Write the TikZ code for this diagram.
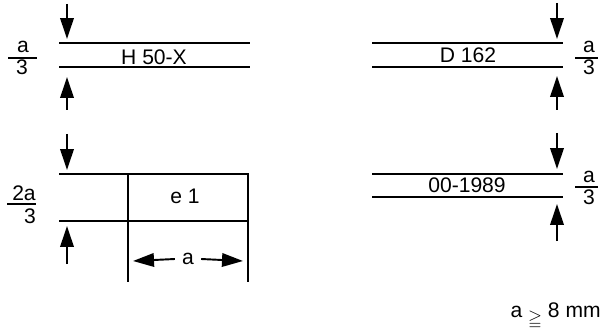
\documentclass[tikz,border=0pt]{standalone}
\usepackage{fontspec}
\usepackage{amssymb}
\setmainfont{Liberation Sans}
\usetikzlibrary{arrows.meta}

\begin{document}
\begin{tikzpicture}[x=0.02cm,y=-0.02cm,font=\fontsize{12}{14}\selectfont,
        rule/.style={line width=1.1pt},
        pointer/.style={line width=1.1pt,-{Triangle[length=0.42cm,width=0.27cm]}},
        txt/.style={inner sep=0pt,anchor=base},
        fracbar/.style={line width=1pt}]
    \useasboundingbox (0,0) rectangle (609,331);
    % H 50-X
    \draw[rule] (59,43) -- (250,43);
    \draw[rule] (59,67) -- (250,67);
    \node[txt] (hmark) at (154,65) {H 50-X};
    \draw[pointer] (67,4) -- (67,39);
    \draw[pointer] (67,110) -- (67,77);
    \node[txt] (hnum) at (23,53) {a};
    \node[txt] (hden) at (22,75) {3};
    \draw[fracbar] (8,58) -- (37,58);
    % D 162
    \draw[rule] (372,43) -- (563,43);
    \draw[rule] (372,67) -- (563,67);
    \node[txt] (dmark) at (468,63) {D 162};
    \draw[pointer] (557,3) -- (557,39);
    \draw[pointer] (557,110) -- (557,76);
    \node[txt] (dnum) at (589,53) {a};
    \node[txt] (dden) at (589,75) {3};
    \draw[fracbar] (575,58) -- (598,58);
    % e 1
    \draw[rule] (59,174) -- (249,174);
    \draw[rule] (59,221) -- (249,221);
    \draw[rule] (128,174) -- (128,282);
    \draw[rule] (248,174) -- (248,282);
    \node[txt] (emark) at (185,204) {e 1};
    \draw[pointer] (67,134) -- (67,170);
    \draw[pointer] (67,264) -- (67,226);
    \node[txt] (enum) at (24,200) {2a};
    \node[txt] (eden) at (30,223) {3};
    \draw[fracbar] (7,204) -- (36,204);
    \node[inner sep=0pt] (awidth) at (188,259) {a};
    \coordinate (aleft) at (133,261);
    \coordinate (aright) at (243,261);
    \draw[pointer] ([xshift=-0.14cm]awidth.west) -- (aleft);
    \draw[pointer] ([xshift=0.14cm]awidth.east) -- (aright);
    % 00-1989
    \draw[rule] (372,174) -- (563,174);
    \draw[rule] (372,197) -- (563,197);
    \node[txt] (ymark) at (467,193) {00-1989};
    \draw[pointer] (557,133) -- (557,169);
    \draw[pointer] (557,241) -- (557,204);
    \node[txt] (ynum) at (589,183) {a};
    \node[txt] (yden) at (589,205) {3};
    \draw[fracbar] (575,187) -- (598,187);
    % minimum size
    \node[txt,anchor=base east] (amin) at (601,317)
        {a \raisebox{-4pt}{\scalebox{0.85}{$\geqq$}} 8 mm};
\end{tikzpicture}
\end{document}
